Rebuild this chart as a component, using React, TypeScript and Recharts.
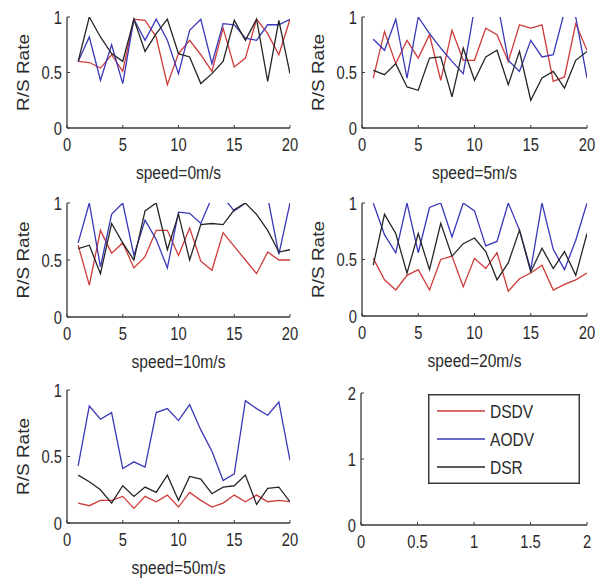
import { Legend, Line, LineChart, XAxis, YAxis } from "recharts";

const RUNS = [1, 2, 3, 4, 5, 6, 7, 8, 9, 10, 11, 12, 13, 14, 15, 16, 17, 18, 19, 20];

const SERIES = [
  { key: "dsdv", name: "DSDV", color: "#cf3a3a" },
  { key: "aodv", name: "AODV", color: "#3838b8" },
  { key: "dsr", name: "DSR", color: "#262626" },
];

// speed = 0 m/s
const dsdv0 = [0.6, 0.59, 0.54, 0.66, 0.51, 0.98, 0.97, 0.82, 0.39, 0.67, 0.79, 0.66, 0.51, 0.9, 0.55, 0.63, 0.98, 0.85, 0.66, 0.98];
const aodv0 = [0.6, 0.82, 0.43, 0.75, 0.4, 0.98, 0.79, 0.98, 0.79, 0.49, 0.88, 0.98, 0.58, 0.94, 0.93, 0.81, 0.79, 0.93, 0.93, 0.98];
const dsr0 = [0.6, 1.0, 0.82, 0.67, 0.6, 0.98, 0.69, 0.85, 0.98, 0.67, 0.64, 0.4, 0.49, 0.6, 0.97, 0.79, 0.98, 0.42, 0.97, 0.49];

// speed = 5 m/s
const dsdv5 = [0.45, 0.87, 0.58, 0.79, 0.63, 0.84, 0.43, 0.88, 0.61, 0.61, 0.9, 0.84, 0.6, 0.93, 0.9, 0.93, 0.42, 0.46, 0.94, 0.7];
const aodv5 = [0.8, 0.7, 0.98, 0.45, 1.0, 0.85, 0.72, 0.6, 0.49, 1.08, 1.25, 1.15, 0.61, 0.51, 0.79, 0.64, 0.66, 1.05, 1.0, 0.45];
const dsr5 = [0.52, 0.48, 0.58, 0.37, 0.34, 0.63, 0.64, 0.28, 0.72, 0.43, 0.64, 0.7, 0.39, 0.69, 0.25, 0.45, 0.51, 0.36, 0.61, 0.69];

// speed = 10 m/s
const dsdv10 = [0.63, 0.28, 0.76, 0.56, 0.65, 0.43, 0.53, 0.76, 0.76, 0.54, 0.78, 0.49, 0.41, 0.74, 0.62, 0.5, 0.38, 0.57, 0.5, 0.5];
const aodv10 = [0.65, 1.0, 0.44, 0.9, 1.0, 0.54, 0.85, 0.68, 0.43, 0.92, 0.91, 0.82, 1.05, 1.05, 0.93, 1.0, 1.15, 1.05, 0.55, 1.0];
const dsr10 = [0.6, 0.63, 0.38, 0.82, 0.65, 0.5, 0.93, 1.0, 0.59, 0.9, 0.5, 0.81, 0.82, 0.81, 0.94, 1.0, 0.9, 0.76, 0.57, 0.59];

// speed = 20 m/s
const dsdv20 = [0.51, 0.32, 0.23, 0.36, 0.41, 0.23, 0.5, 0.53, 0.26, 0.51, 0.42, 0.56, 0.22, 0.33, 0.38, 0.45, 0.23, 0.28, 0.32, 0.38];
const aodv20 = [1.0, 0.72, 0.56, 1.0, 0.56, 0.96, 1.0, 0.7, 1.0, 0.93, 0.62, 0.66, 1.0, 0.76, 0.41, 1.0, 0.59, 0.41, 0.67, 1.0];
const dsr20 = [0.45, 0.9, 0.73, 0.38, 0.73, 0.41, 0.82, 0.53, 0.64, 0.69, 0.57, 0.32, 0.47, 0.76, 0.39, 0.6, 0.42, 0.57, 0.36, 0.73];

// speed = 50 m/s
const dsdv50 = [0.15, 0.13, 0.17, 0.17, 0.2, 0.11, 0.2, 0.16, 0.21, 0.12, 0.23, 0.17, 0.12, 0.15, 0.21, 0.16, 0.21, 0.16, 0.17, 0.16];
const aodv50 = [0.43, 0.88, 0.78, 0.83, 0.41, 0.46, 0.42, 0.83, 0.86, 0.77, 0.89, 0.7, 0.54, 0.32, 0.37, 0.92, 0.86, 0.81, 0.91, 0.47];
const dsr50 = [0.36, 0.31, 0.25, 0.15, 0.28, 0.2, 0.27, 0.23, 0.36, 0.17, 0.35, 0.33, 0.22, 0.27, 0.28, 0.36, 0.14, 0.26, 0.27, 0.16];

const SPEED_TICKS = [0, 5, 10, 15, 20];
const RATE_TICKS = [0, 0.5, 1];
const EMPTY_X_TICKS = [0, 0.5, 1, 1.5, 2];
const EMPTY_Y_TICKS = [0, 1, 2];

// Arial-like font squeezed horizontally to look like the narrow MATLAB export
const FONT = '"Liberation Sans", Arial, sans-serif';
const SQUEEZE = 0.82;
const AXIS = "#3a3a3a";
const TEXT = "#2a2a2a";

const toRows = (dsdv: number[], aodv: number[], dsr: number[]) =>
  RUNS.map((x, i) => ({ x, dsdv: dsdv[i], aodv: aodv[i], dsr: dsr[i] }));

const panels = [
  { title: "speed=0m/s", left: 67, top: 17, w: 223, h: 111, rows: toRows(dsdv0, aodv0, dsr0) },
  { title: "speed=5m/s", left: 362, top: 17, w: 225, h: 111, rows: toRows(dsdv5, aodv5, dsr5) },
  { title: "speed=10m/s", left: 67, top: 203, w: 223, h: 114, rows: toRows(dsdv10, aodv10, dsr10) },
  { title: "speed=20m/s", left: 362, top: 203, w: 225, h: 113, rows: toRows(dsdv20, aodv20, dsr20) },
  { title: "speed=50m/s", left: 67, top: 390, w: 223, h: 133, rows: toRows(dsdv50, aodv50, dsr50) },
];

// the legend-only panel has no series: its rows just span the axis extents
const emptyRows = [
  { x: EMPTY_X_TICKS[0], y: EMPTY_Y_TICKS[0] },
  { x: EMPTY_X_TICKS[EMPTY_X_TICKS.length - 1], y: EMPTY_Y_TICKS[EMPTY_Y_TICKS.length - 1] },
];

const Y_AXIS_W = 62;
const PAD_TOP = 12;
const PAD_RIGHT = 12;
const X_AXIS_H = 60;

function Narrow({ x, y, anchor, size, children }: any) {
  return (
    <text
      transform={`translate(${x}, ${y}) scale(${SQUEEZE}, 1)`}
      textAnchor={anchor}
      fontSize={size}
      fill={TEXT}
      fontFamily={FONT}
    >
      {children}
    </text>
  );
}

function XTick({ x, y, payload }: any) {
  return (
    <g>
      <line x1={x} y1={y} x2={x} y2={y - 3} stroke={AXIS} />
      <Narrow x={x} y={y + 23} anchor="middle" size={18}>
        {payload.value}
      </Narrow>
    </g>
  );
}

function YTick({ x, y, payload }: any) {
  return (
    <g>
      <line x1={x} y1={y} x2={x + 3} y2={y} stroke={AXIS} />
      <Narrow x={x - 5} y={y + 6.5} anchor="end" size={18}>
        {payload.value}
      </Narrow>
    </g>
  );
}

const yTitle = (props: any) => {
  const vb = props.viewBox;
  const cx = vb.x + vb.width - 43;
  const cy = vb.y + vb.height / 2;
  return (
    <text
      transform={`translate(${cx}, ${cy}) rotate(-90) scale(1, ${SQUEEZE})`}
      textAnchor="middle"
      dominantBaseline="central"
      fontSize={19}
      fill={TEXT}
      fontFamily={FONT}
    >
      R/S Rate
    </text>
  );
};

const xTitle = (title: string) => (props: any) => {
  const vb = props.viewBox;
  return (
    <Narrow x={vb.x + vb.width / 2} y={vb.y + 51} anchor="middle" size={19}>
      {title}
    </Narrow>
  );
};

function LegendBox() {
  return (
    <svg width={152} height={90} style={{ display: "block" }}>
      <rect x={0.75} y={0.75} width={150.5} height={88.5} fill="#fff" stroke={AXIS} strokeWidth={1.5} />
      {SERIES.map((s, i) => (
        <g key={s.key}>
          <line x1={9} x2={57} y1={17 + i * 28} y2={17 + i * 28} stroke={s.color} strokeWidth={1.3} />
          <Narrow x={62} y={17 + i * 28 + 7} anchor="start" size={19}>
            {s.name}
          </Narrow>
        </g>
      ))}
    </svg>
  );
}

export default function App() {
  return (
    <div style={{ position: "absolute", left: 0, top: 0, width: 603, height: 580, background: "#fff" }}>
      {panels.map((p) => (
        <div
          key={p.title}
          style={{ position: "absolute", left: p.left - Y_AXIS_W, top: p.top - PAD_TOP }}
        >
          <LineChart
            width={Y_AXIS_W + p.w + PAD_RIGHT}
            height={PAD_TOP + p.h + X_AXIS_H}
            data={p.rows}
            margin={{ top: PAD_TOP, right: PAD_RIGHT, left: 0, bottom: 0 }}
          >
            <XAxis
              dataKey="x"
              type="number"
              domain={[0, 20]}
              ticks={SPEED_TICKS}
              allowDataOverflow
              height={X_AXIS_H}
              tickSize={0}
              tickMargin={0}
              tickLine={false}
              tick={<XTick />}
              axisLine={{ stroke: AXIS, strokeWidth: 1.3 }}
              label={{ value: p.title, content: xTitle(p.title) }}
            />
            <YAxis
              type="number"
              domain={[0, 1]}
              ticks={RATE_TICKS}
              allowDataOverflow
              width={Y_AXIS_W}
              tickSize={0}
              tickMargin={0}
              tickLine={false}
              tick={<YTick />}
              axisLine={{ stroke: AXIS, strokeWidth: 1.3 }}
              label={{ value: "R/S Rate", content: yTitle }}
            />
            {SERIES.map((s) => (
              <Line
                key={s.key}
                dataKey={s.key}
                name={s.name}
                stroke={s.color}
                strokeWidth={1.3}
                dot={false}
                activeDot={false}
                isAnimationActive={false}
              />
            ))}
          </LineChart>
        </div>
      ))}
      <div style={{ position: "absolute", left: 361 - Y_AXIS_W, top: 393 - PAD_TOP }}>
        <LineChart
          width={Y_AXIS_W + 226 + PAD_RIGHT}
          height={PAD_TOP + 132 + X_AXIS_H}
          data={emptyRows}
          margin={{ top: PAD_TOP, right: PAD_RIGHT, left: 0, bottom: 0 }}
        >
          <XAxis
            dataKey="x"
            type="number"
            domain={[0, 2]}
            ticks={EMPTY_X_TICKS}
            height={X_AXIS_H}
            tickSize={0}
            tickMargin={0}
            tickLine={false}
            tick={<XTick />}
            axisLine={{ stroke: AXIS, strokeWidth: 1.3 }}
          />
          <YAxis
            dataKey="y"
            type="number"
            domain={[0, 2]}
            ticks={EMPTY_Y_TICKS}
            width={Y_AXIS_W}
            tickSize={0}
            tickMargin={0}
            tickLine={false}
            tick={<YTick />}
            axisLine={{ stroke: AXIS, strokeWidth: 1.3 }}
          />
          <Legend
            layout="horizontal"
            verticalAlign="middle"
            align="center"
            content={() => <LegendBox />}
            wrapperStyle={{ left: 428 - 361 + Y_AXIS_W, top: 394 - 393 + PAD_TOP, width: 152, height: 90 }}
          />
        </LineChart>
      </div>
    </div>
  );
}
